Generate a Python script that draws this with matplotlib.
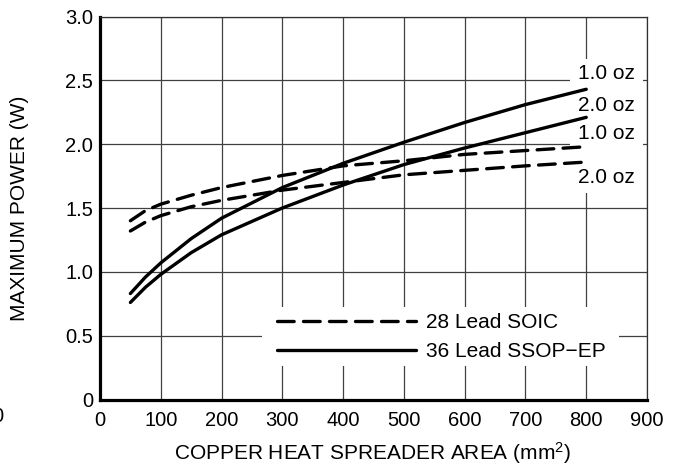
import matplotlib
matplotlib.use("Agg")
import matplotlib.pyplot as plt
from matplotlib.patches import Rectangle

plt.rcParams['font.family'] = ['Liberation Sans', 'DejaVu Sans']
plt.rcParams['mathtext.fontset'] = 'custom'
plt.rcParams['mathtext.rm'] = 'Liberation Sans'
plt.rcParams['mathtext.default'] = 'regular'

# ---- data ----
area = [50, 75, 100, 150, 200, 300, 400, 500, 600, 700, 800]
ssop_1oz = [0.83, 0.96, 1.07, 1.26, 1.42, 1.66, 1.85, 2.015, 2.17, 2.31, 2.43]
ssop_2oz = [0.76, 0.88, 0.98, 1.15, 1.29, 1.50, 1.68, 1.84, 1.97, 2.09, 2.21]
soic_1oz = [1.40, 1.48, 1.53, 1.60, 1.66, 1.755, 1.83, 1.87, 1.92, 1.95, 1.98]
soic_2oz = [1.32, 1.39, 1.44, 1.51, 1.56, 1.64, 1.70, 1.76, 1.795, 1.83, 1.86]

x_ticks = [0, 100, 200, 300, 400, 500, 600, 700, 800, 900]
y_ticks = [0, 0.5, 1.0, 1.5, 2.0, 2.5, 3.0]
y_tick_labels = ["0", "0.5", "1.0", "1.5", "2.0", "2.5", "3.0"]
curve_labels = ["1.0 oz", "2.0 oz", "1.0 oz", "2.0 oz"]
curve_label_y = [2.555, 2.30, 2.08, 1.735]
legend_labels = ["28 Lead SOIC", "36 Lead SSOP\u2212EP"]

FS = 15
TFS = 14.5

fig = plt.figure(figsize=(6.79, 4.70), dpi=100)
ax = fig.add_axes([100/679, 70.5/470, 547/679, 383/470])
ax.set_xlim(0, 900)
ax.set_ylim(0, 3.0)
ax.set_xticks(x_ticks)
ax.set_xticklabels([str(v) for v in x_ticks])
ax.set_yticks(y_ticks)
ax.set_yticklabels(y_tick_labels)
ax.tick_params(axis='both', length=0, labelsize=TFS, colors='black')
ax.tick_params(axis='x', pad=8)
ax.tick_params(axis='y', pad=5)

ax.set_axisbelow(True)
ax.grid(True, color='#404040', linewidth=0.9)
for s in ['left', 'bottom']:
    ax.spines[s].set_linewidth(2.3)
for s in ['top', 'right']:
    ax.spines[s].set_linewidth(0.9)
    ax.spines[s].set_color('#303030')

lw = 2.4
dash = (0, (5.0, 2.8))
ax.plot(area, soic_1oz, color='black', lw=lw, linestyle=dash,
        dash_capstyle='round', zorder=4, label=legend_labels[0])
ax.plot(area, soic_2oz, color='black', lw=lw, linestyle=dash,
        dash_capstyle='round', zorder=4)
ax.plot(area, ssop_1oz, color='black', lw=lw, solid_capstyle='round',
        zorder=4, label=legend_labels[1])
ax.plot(area, ssop_2oz, color='black', lw=lw, solid_capstyle='round', zorder=4)

# white area behind the curve labels
ax.add_patch(Rectangle((773, 1.62), 120, 1.05, facecolor='white',
                       edgecolor='none', zorder=2))
for lab, yv in zip(curve_labels, curve_label_y):
    ax.text(833, yv, lab, ha='center', va='center', fontsize=FS, zorder=3)

# white area behind the legend
ax.add_patch(Rectangle(((262-100)/547, (399.5-366)/383), (619-262)/547,
                       (366-307)/383, transform=ax.transAxes,
                       facecolor='white', edgecolor='none', zorder=2))
leg = ax.legend(loc='upper left', bbox_to_anchor=((276.5-100)/547, (399.5-313.5)/383),
                borderaxespad=0, frameon=False, fontsize=FS,
                handlelength=6.7, handletextpad=0.5, labelspacing=0.45,
                borderpad=0)

ax.set_xlabel('COPPER HEAT SPREADER AREA (mm$^{2}$)', fontsize=FS)
ax.set_ylabel('MAXIMUM POWER (W)', fontsize=FS)
ax.xaxis.set_label_coords(0.499, (399.5-453)/383)
ax.xaxis.label.set_va('center')
ax.yaxis.set_label_coords((20-100)/547, 0.5)
ax.yaxis.label.set_va('center')

fig.text(-2/679, 1 - 417/470, '0', ha='center', va='center', fontsize=TFS)

fig.savefig('out.png', dpi=100)
